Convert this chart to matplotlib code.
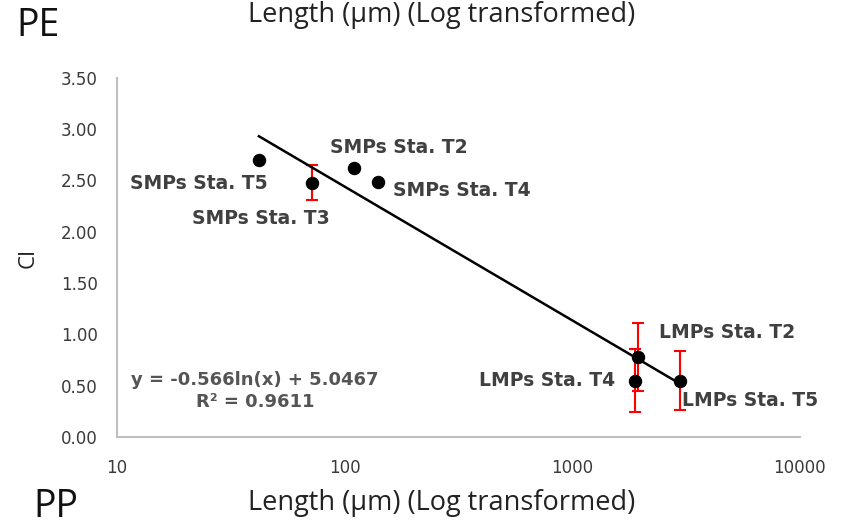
import numpy as np
import matplotlib.pyplot as plt

# station labels, lengths (um) and CI values with standard deviations
labels = ["SMPs Sta. T5", "SMPs Sta. T3", "SMPs Sta. T2", "SMPs Sta. T4",
          "LMPs Sta. T2", "LMPs Sta. T4", "LMPs Sta. T5"]
length_um = [42, 72, 110, 140, 1950, 1880, 2980]
ci = [2.70, 2.48, 2.62, 2.49, 0.78, 0.55, 0.55]
ci_sd = [0.0, 0.17, 0.0, 0.0, 0.33, 0.31, 0.29]

# label offsets in points (dx, dy) and alignment
label_pos = [(6, -17, "right"), (13, -26, "right"), (-17, 15, "left"), (11, -6.5, "left"),
             (15, 18, "left"), (-14, 0, "right"), (1.5, -14, "left")]

# log trend fit as reported
slope, intercept, r2 = -0.566, 5.0467, 0.9611

grey = "#404040"
title_font = "Open Sans"

fig = plt.figure(figsize=(8.42, 5.26), dpi=100)
ax = fig.add_axes([0.139, 0.169, 0.811, 0.683])

ax.errorbar(length_um, ci, yerr=ci_sd, fmt="none", ecolor="#ff0000",
            elinewidth=1.5, capsize=4.5, capthick=1.5, zorder=2)
ax.scatter(length_um, ci, s=75, color="black", zorder=3)

xfit = np.linspace(min(length_um), max(length_um), 200)
ax.plot(xfit, slope * np.log(xfit) + intercept, color="black", lw=1.8, zorder=2)

for name, x, y, (dx, dy, ha) in zip(labels, length_um, ci, label_pos):
    ax.annotate(name, (x, y), xytext=(dx, dy), textcoords="offset points",
                ha=ha, va="center", fontsize=13.5, fontweight="bold",
                color=grey, family="DejaVu Sans")

ax.text(0.202, 0.128, f"y = {slope}ln(x) + {intercept}\nR² = {r2}",
        transform=ax.transAxes, ha="center", va="center", fontsize=13,
        fontweight="bold", color="#555555", family="DejaVu Sans", linespacing=1.25)

ax.set_xscale("log")
ax.set_xlim(10, 10000)
ax.set_ylim(0, 3.5)
ax.set_xticks([10, 100, 1000, 10000])
ax.set_xticklabels(["10", "100", "1000", "10000"])
ax.set_yticks(np.arange(0, 3.51, 0.5))
ax.set_yticklabels([f"{v:.2f}" for v in np.arange(0, 3.51, 0.5)])
ax.minorticks_off()
ax.tick_params(length=0, labelsize=12, colors="#3a3a3a")
ax.tick_params(axis="x", pad=16)
ax.tick_params(axis="y", pad=14)

for side in ["top", "right"]:
    ax.spines[side].set_visible(False)
for side in ["left", "bottom"]:
    ax.spines[side].set_color("#bfbfbf")
    ax.spines[side].set_linewidth(1.5)

ax.set_ylabel("CI", fontsize=16, color="#222222", family=title_font, labelpad=16)

fig.text(0.525, 0.998, "Length (μm) (Log transformed)", ha="center", va="top",
         fontsize=19.5, color="#222222", family=title_font)
fig.text(0.525, 0.043, "Length (μm) (Log transformed)", ha="center", va="center",
         fontsize=19.5, color="#222222", family=title_font)
fig.text(0.020, 0.950, "PE", ha="left", va="center", fontsize=27, color="#111111",
         family=title_font)
fig.text(0.040, 0.036, "PP", ha="left", va="center", fontsize=27, color="#111111",
         family=title_font)

fig.savefig("out.png", dpi=100)
